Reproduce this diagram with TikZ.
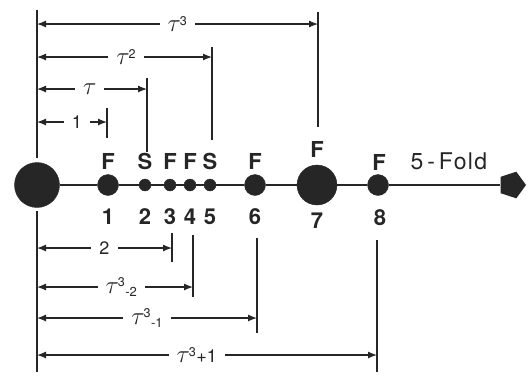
\documentclass[tikz,border=0pt]{standalone}
\usepackage{fontspec}
\setmainfont{TeX Gyre Heros}
\usetikzlibrary{shapes.geometric,arrows.meta}
\newcommand{\tb}{{\fontsize{26}{26}\selectfont$\tau$}}
\newcommand{\tp}[1]{\tb\textsuperscript{\kern-1pt#1}}
\newcommand{\lo}[1]{\raisebox{-3pt}{\fontsize{13}{13}\selectfont#1}}
\tikzset{
  atom/.style  = {circle, fill=black!85, draw=black!85, inner sep=0pt},
  guide/.style = {line width=1.2pt, black!85},
  dim/.style   = {guide, {Latex[length=9pt,width=7pt]}-{Latex[length=9pt,width=7pt]}},
  dlbl/.style  = {fill=white, inner xsep=8pt, inner ysep=0pt, text=black!85,
                  font=\fontsize{18}{18}\selectfont},
  site/.style  = {text=black!85, font=\fontsize{22}{22}\selectfont\bfseries},
}

\begin{document}
\begin{tikzpicture}[x=1pt,y=-1pt]
\useasboundingbox (0,0) rectangle (532,381);

% atoms on the 5-fold axis
\node[atom, minimum size=45] (c0) at (37,185) {};
\foreach \n/\x/\s in {1/108/21,2/145/12,3/170/12,4/190/12,5/210/12,6/255/21,7/317/40,8/378/21}{
  \node[atom, minimum size=\s] (a\n) at (\x,185) {};
}
\node[regular polygon, regular polygon sides=5, rotate=-90, fill=black!85,
      inner sep=0pt, minimum size=28] (pent) at (512,185) {};
\draw[guide] (c0)--(a1)--(a2)--(a3)--(a4)--(a5)--(a6)--(a7)--(a8)--(pent);

% site types and numbers
\foreach \n/\x/\t in {1/108/F,2/145/S,3/170/F,4/190/F,5/210/S,6/255/F}{
  \node[site] (t\n) at (\x,161) {\t};
  \node[site] (n\n) at (\x,217) {\n};
}
\node[site] (t7) at (317,149) {F};
\node[site] (n7) at (317,221) {7};
\node[site] (t8) at (379,162) {F};
\node[site] (n8) at (380,218) {8};
\node[text=black!85, font=\fontsize{23}{23}\selectfont\addfontfeature{LetterSpace=6}]
  (fold) at (449,161) {5\,-\,Fold};

% origin line
\coordinate (zt) at (37,10);
\coordinate (zb) at (37,372);
\draw[guide, shorten >=4pt] (zt) -- (c0);
\draw[guide, shorten >=3pt] (zb) -- (c0);

% distances above the axis
\coordinate (u1t) at (107,108);  \coordinate (u1b) at (107,138);
\coordinate (u2t) at (147,78);   \coordinate (u2b) at (147,152);
\coordinate (u3t) at (212,47);   \coordinate (u3b) at (212,140);
\coordinate (u4t) at (318,12);   \coordinate (u4b) at (318,127);
\draw[guide] (u1t) -- (u1b);
\draw[guide] (u2t) -- (u2b);
\draw[guide] (u3t) -- (u3b);
\draw[guide] (u4t) -- (u4b);
\draw[dim] (zt |- 0,122) -- node[dlbl, pos=0.57] {1} (u1t |- 0,122);
\draw[dim] (zt |- 0,89)  -- node[dlbl, pos=0.48] {\tb} (u2t |- 0,89);
\draw[dim] (zt |- 0,57)  -- node[dlbl, pos=0.51] {\tp{2}} (u3t |- 0,57);
\draw[dim] (zt |- 0,24)  -- node[dlbl, pos=0.50] {\tp{3}} (u4t |- 0,24);

% distances below the axis
\coordinate (l1t) at (172,233);  \coordinate (l1b) at (172,262);
\coordinate (l2t) at (193,235);  \coordinate (l2b) at (193,297);
\coordinate (l3t) at (257,238);  \coordinate (l3b) at (257,333);
\coordinate (l4t) at (377,240);  \coordinate (l4b) at (377,372);
\draw[guide] (l1t) -- (l1b);
\draw[guide] (l2t) -- (l2b);
\draw[guide] (l3t) -- (l3b);
\draw[guide] (l4t) -- (l4b);
\draw[dim] (zt |- 0,248) -- node[dlbl, pos=0.50] {2} (l1t |- 0,248);
\draw[dim] (zt |- 0,287) -- node[dlbl, pos=0.54] {\tp{3}\lo{-2}} (l2t |- 0,287);
\draw[dim] (zt |- 0,318) -- node[dlbl, pos=0.50] {\tp{3}\lo{-1}} (l3t |- 0,318);
\draw[dim] (zt |- 0,355) -- node[dlbl, pos=0.47] {\tp{3}+1} (l4t |- 0,355);

\end{tikzpicture}
\end{document}
